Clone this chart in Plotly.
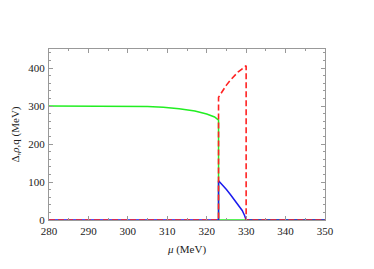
import plotly.graph_objects as go

mu_green = [280, 300, 305, 309, 313, 317, 320, 322, 323, 323, 330, 350]
green = [300, 300, 299, 297, 293, 287, 279, 271, 263, 0, 0, 0]

mu_blue = [280, 323, 323, 324, 325, 326, 327, 328, 329, 329.6, 330, 330, 350]
blue = [0, 0, 103, 92, 80, 67, 54, 40, 25, 12, 0, 0, 0]

mu_red = [280, 323, 323, 324, 325, 326, 327, 328, 329, 330, 330, 350]
red = [0, 0, 323, 340, 355, 368, 380, 390, 398, 406, 0, 0]

x_ticks = [280, 290, 300, 310, 320, 330, 340, 350]
y_ticks = [0, 100, 200, 300, 400]

fig = go.Figure()
fig.add_trace(go.Scatter(x=mu_green, y=green, mode="lines",
                         line=dict(color="#22ee22", width=1.5)))
fig.add_trace(go.Scatter(x=mu_blue, y=blue, mode="lines",
                         line=dict(color="#1a1aee", width=1.5)))
fig.add_trace(go.Scatter(x=mu_red, y=red, mode="lines",
                         line=dict(color="#ff2222", width=1.6, dash="6px,3px")))

axis_common = dict(showline=True, linecolor="#999999", linewidth=1, mirror="allticks",
                   ticks="inside", ticklen=4, tickcolor="#999999", showgrid=False,
                   zeroline=False, automargin=False,
                   tickfont=dict(family="Liberation Serif", size=11, color="#222"),
                   minor=dict(ticks="inside", ticklen=2, tickcolor="#999999", nticks=5))

fig.update_xaxes(range=[280, 350], tickvals=x_ticks, ticklabelstandoff=1,
                 title=dict(text="<i>μ</i> (MeV)", font=dict(family="Liberation Serif", size=11, color="#222"), standoff=9),
                 **axis_common)
fig.update_yaxes(range=[0, 450], tickvals=y_ticks, ticklabelstandoff=1,
                 title=dict(text="Δ,<i>ρ</i>,q (MeV)", font=dict(family="Liberation Serif", size=11, color="#222"), standoff=6),
                 **axis_common)

fig.update_layout(width=366, height=261, showlegend=False,
                  margin=dict(l=41, r=49, t=41, b=49),
                  paper_bgcolor="white", plot_bgcolor="white")
fig.write_html("out.html")
